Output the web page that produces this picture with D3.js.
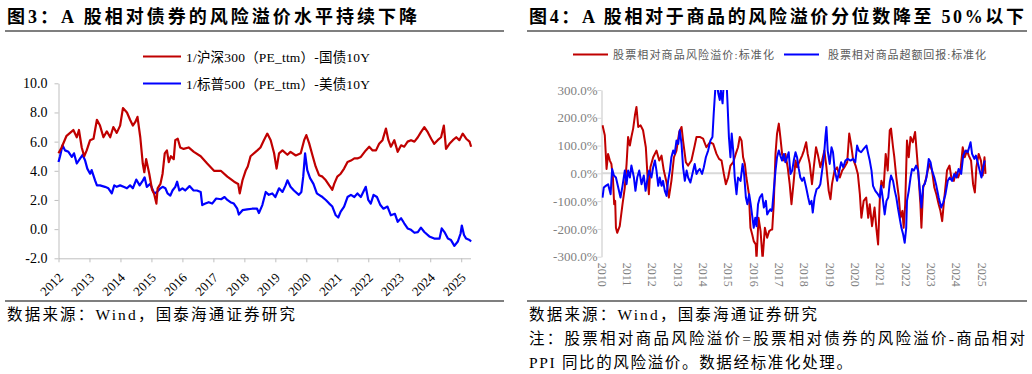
<!DOCTYPE html>
<html>
<head>
<meta charset="utf-8">
<script src="https://cdn.jsdelivr.net/npm/d3@7"></script>
<style>
  body { margin: 0; background: #fff; }
  svg { display: block; }
</style>
</head>
<body>
<svg id="chart" width="1032" height="374"></svg>
<script>
// ---- data: left chart (fig 3) ----
const leftYears = d3.range(2012, 2026);
const leftYTicks = [-2, 0, 2, 4, 6, 8, 10];
const leftNames = ["1/沪深300（PE_ttm）-国债10Y", "1/标普500（PE_ttm）-美债10Y"];

// [year, value]
const hs300Bond = [[2012.00,5.2],[2012.10,5.6],[2012.26,6.4],[2012.43,6.7],[2012.48,6.8],[2012.59,6.3],[2012.66,6.8],[2012.75,5.6],[2012.83,5.0],[2012.91,5.4],[2013.02,6.1],[2013.13,6.2],[2013.24,7.5],[2013.34,7.1],[2013.45,6.3],[2013.56,6.7],[2013.67,6.3],[2013.77,7.0],[2013.88,6.6],[2013.99,7.1],[2014.08,8.3],[2014.21,8.0],[2014.31,7.5],[2014.40,7.1],[2014.48,7.35],[2014.55,7.7],[2014.64,6.3],[2014.72,4.5],[2014.77,3.9],[2014.83,4.8],[2014.93,3.8],[2015.02,2.7],[2015.09,2.4],[2015.16,1.75],[2015.20,2.8],[2015.29,3.1],[2015.36,3.8],[2015.43,5.2],[2015.50,5.4],[2015.56,4.6],[2015.63,5.0],[2015.72,4.8],[2015.77,6.1],[2015.85,6.2],[2015.93,5.6],[2016.04,5.5],[2016.20,5.6],[2016.37,5.3],[2016.59,5.0],[2016.80,4.5],[2017.02,4.0],[2017.24,4.0],[2017.45,3.6],[2017.67,3.25],[2017.80,3.1],[2017.85,2.45],[2017.94,3.35],[2018.04,4.0],[2018.11,4.3],[2018.20,5.0],[2018.42,5.4],[2018.52,5.6],[2018.63,6.1],[2018.74,6.55],[2018.85,6.1],[2018.96,5.2],[2019.04,4.15],[2019.12,5.2],[2019.23,5.4],[2019.39,5.1],[2019.49,5.3],[2019.66,5.05],[2019.82,5.2],[2019.93,6.1],[2020.00,6.45],[2020.09,5.9],[2020.20,5.05],[2020.30,4.3],[2020.41,3.7],[2020.52,3.6],[2020.63,3.35],[2020.74,3.0],[2020.84,2.7],[2020.90,3.1],[2021.00,3.6],[2021.11,3.8],[2021.22,4.15],[2021.33,4.6],[2021.44,4.7],[2021.55,4.85],[2021.65,4.85],[2021.76,4.95],[2021.92,5.4],[2022.03,5.65],[2022.14,5.4],[2022.25,5.4],[2022.35,5.85],[2022.46,6.1],[2022.57,6.9],[2022.65,6.1],[2022.73,5.65],[2022.84,6.1],[2022.95,5.3],[2023.06,5.75],[2023.16,5.65],[2023.27,6.0],[2023.38,6.1],[2023.49,6.0],[2023.60,6.3],[2023.70,6.65],[2023.81,7.0],[2023.92,6.65],[2024.03,6.2],[2024.13,5.85],[2024.24,6.1],[2024.35,6.3],[2024.44,7.1],[2024.51,5.5],[2024.62,5.85],[2024.73,6.1],[2024.84,6.3],[2024.94,6.1],[2025.05,6.55],[2025.16,6.2],[2025.27,6.0],[2025.32,5.65]];

const spxBond = [[2012.00,4.6],[2012.05,5.0],[2012.13,5.75],[2012.21,5.4],[2012.32,5.3],[2012.43,4.95],[2012.50,5.2],[2012.59,4.5],[2012.70,4.85],[2012.78,5.1],[2012.86,4.7],[2012.93,4.15],[2013.02,3.8],[2013.07,4.05],[2013.18,3.35],[2013.24,3.0],[2013.34,3.0],[2013.50,2.9],[2013.61,2.8],[2013.72,2.45],[2013.80,3.0],[2013.88,2.9],[2013.99,3.0],[2014.10,2.9],[2014.21,2.8],[2014.31,3.0],[2014.40,2.8],[2014.51,3.4],[2014.62,3.0],[2014.70,3.25],[2014.78,3.55],[2014.85,2.9],[2014.96,3.1],[2015.02,2.8],[2015.09,2.45],[2015.18,2.55],[2015.29,2.8],[2015.36,2.9],[2015.45,2.8],[2015.52,2.45],[2015.61,2.3],[2015.68,2.65],[2015.77,2.9],[2015.83,3.25],[2015.90,2.65],[2016.00,2.8],[2016.09,2.65],[2016.23,2.95],[2016.36,2.65],[2016.47,2.65],[2016.59,2.55],[2016.64,1.65],[2016.74,1.75],[2016.85,1.85],[2016.96,1.75],[2017.09,2.1],[2017.25,2.05],[2017.36,2.2],[2017.45,2.0],[2017.55,1.85],[2017.66,1.75],[2017.77,1.4],[2017.82,1.0],[2017.94,1.3],[2018.09,1.35],[2018.25,1.4],[2018.41,1.4],[2018.47,1.1],[2018.58,1.65],[2018.69,2.55],[2018.79,2.35],[2018.90,2.45],[2019.00,2.2],[2019.12,2.8],[2019.23,2.55],[2019.33,3.0],[2019.39,3.35],[2019.49,2.9],[2019.60,2.65],[2019.76,2.35],[2019.84,2.55],[2019.90,3.6],[2019.96,5.2],[2020.03,4.05],[2020.12,3.5],[2020.23,3.1],[2020.34,2.45],[2020.41,2.35],[2020.52,2.2],[2020.63,2.0],[2020.74,1.75],[2020.84,1.55],[2020.95,0.95],[2021.03,0.8],[2021.11,1.2],[2021.22,1.55],[2021.33,2.2],[2021.44,2.35],[2021.55,2.2],[2021.65,2.45],[2021.76,2.2],[2021.92,2.9],[2022.00,2.0],[2022.08,1.75],[2022.17,2.35],[2022.28,2.2],[2022.39,1.65],[2022.49,1.4],[2022.62,1.55],[2022.73,0.95],[2022.86,1.05],[2022.95,0.5],[2023.06,0.75],[2023.16,0.4],[2023.27,0.05],[2023.38,-0.05],[2023.49,-0.25],[2023.60,-0.2],[2023.70,0.1],[2023.81,-0.2],[2023.97,-0.5],[2024.13,-0.65],[2024.30,-0.65],[2024.37,0.05],[2024.46,-0.2],[2024.57,-0.65],[2024.67,-0.75],[2024.78,-1.15],[2024.89,-0.85],[2024.98,-0.3],[2025.02,0.25],[2025.09,-0.4],[2025.16,-0.65],[2025.27,-0.75],[2025.32,-0.85]];

// ---- data: right chart (fig 4), percent ----
const rightYears = d3.range(2010, 2026);
const rightYTicks = [-300, -200, -100, 0, 100, 200, 300];
const rightNames = ["股票相对商品风险溢价:标准化", "股票相对商品超额回报:标准化"];

const premiumStd = [[2010.04,173],[2010.13,137],[2010.20,16],[2010.26,70],[2010.33,46],[2010.39,34],[2010.45,-15],[2010.50,-111],[2010.54,-99],[2010.57,-196],[2010.62,-214],[2010.72,-190],[2010.83,-111],[2010.92,-51],[2010.99,34],[2011.05,131],[2011.12,100],[2011.18,131],[2011.25,161],[2011.32,209],[2011.38,239],[2011.45,167],[2011.54,173],[2011.64,155],[2011.75,94],[2011.82,-15],[2011.87,-75],[2011.93,22],[2012.04,58],[2012.17,82],[2012.28,46],[2012.37,64],[2012.46,10],[2012.57,-33],[2012.66,-87],[2012.76,-27],[2012.86,58],[2012.96,82],[2013.07,149],[2013.16,167],[2013.22,118],[2013.33,40],[2013.42,28],[2013.55,46],[2013.68,100],[2013.75,131],[2013.88,131],[2014.01,125],[2014.14,94],[2014.28,112],[2014.41,106],[2014.54,70],[2014.64,52],[2014.74,46],[2014.83,-2],[2014.91,-39],[2015.00,-15],[2015.09,28],[2015.20,40],[2015.30,70],[2015.39,94],[2015.46,131],[2015.53,118],[2015.59,58],[2015.66,34],[2015.72,-15],[2015.82,-75],[2015.88,-196],[2015.95,-220],[2016.01,-244],[2016.09,-256],[2016.12,-310],[2016.20,-160],[2016.28,-208],[2016.36,-310],[2016.45,-196],[2016.54,-232],[2016.62,-208],[2016.71,-202],[2016.74,-202],[2016.80,-111],[2016.87,70],[2016.93,143],[2017.00,179],[2017.06,131],[2017.13,70],[2017.20,46],[2017.26,70],[2017.35,22],[2017.43,-39],[2017.50,-111],[2017.59,-27],[2017.66,46],[2017.72,22],[2017.83,46],[2017.92,64],[2017.99,82],[2018.08,112],[2018.14,70],[2018.22,34],[2018.31,-39],[2018.38,22],[2018.47,94],[2018.55,64],[2018.64,22],[2018.71,46],[2018.80,82],[2018.88,22],[2018.97,-63],[2019.04,-93],[2019.10,-39],[2019.20,10],[2019.30,22],[2019.41,-15],[2019.50,10],[2019.59,22],[2019.70,40],[2019.78,143],[2019.85,106],[2019.93,52],[2020.03,28],[2020.12,-2],[2020.20,-75],[2020.26,-160],[2020.35,-99],[2020.45,-87],[2020.53,-160],[2020.59,-111],[2020.68,-190],[2020.78,-123],[2020.85,-196],[2020.92,-256],[2020.99,-87],[2021.05,-27],[2021.14,-51],[2021.22,70],[2021.30,10],[2021.38,155],[2021.43,161],[2021.51,94],[2021.56,58],[2021.64,-15],[2021.74,-87],[2021.80,-160],[2021.88,-135],[2021.93,-196],[2021.99,-111],[2022.06,118],[2022.13,58],[2022.20,131],[2022.29,112],[2022.38,149],[2022.46,58],[2022.53,-27],[2022.59,-111],[2022.63,-196],[2022.70,-51],[2022.79,-27],[2022.88,10],[2022.96,34],[2023.05,10],[2023.14,-51],[2023.22,-75],[2023.31,-111],[2023.38,-135],[2023.45,-172],[2023.51,-111],[2023.59,-39],[2023.64,10],[2023.74,28],[2023.81,-15],[2023.91,-27],[2023.99,4],[2024.08,-15],[2024.17,10],[2024.26,94],[2024.34,58],[2024.43,82],[2024.50,64],[2024.59,46],[2024.67,-39],[2024.74,-69],[2024.80,22],[2024.89,70],[2024.98,46],[2025.05,-8],[2025.12,58],[2025.16,-2]];

const excessStd = [[2010.04,-87],[2010.09,-51],[2010.17,-45],[2010.26,-39],[2010.36,-75],[2010.42,16],[2010.49,-8],[2010.57,-15],[2010.66,-51],[2010.75,-87],[2010.83,-45],[2010.92,10],[2010.99,-39],[2011.05,10],[2011.12,-15],[2011.18,28],[2011.28,-15],[2011.34,-63],[2011.41,-15],[2011.49,10],[2011.58,-39],[2011.67,-8],[2011.74,-63],[2011.80,-27],[2011.88,10],[2011.97,-15],[2012.04,22],[2012.11,46],[2012.17,10],[2012.24,-45],[2012.30,-15],[2012.37,-45],[2012.43,-27],[2012.50,-63],[2012.57,-81],[2012.63,-27],[2012.70,10],[2012.76,58],[2012.83,82],[2012.89,70],[2012.96,118],[2013.03,106],[2013.09,155],[2013.16,106],[2013.22,22],[2013.29,-27],[2013.36,10],[2013.42,-15],[2013.51,-33],[2013.62,10],[2013.68,34],[2013.75,-2],[2013.82,10],[2013.88,16],[2013.97,-2],[2014.04,22],[2014.12,58],[2014.21,82],[2014.30,118],[2014.38,131],[2014.43,215],[2014.49,300],[2014.54,340],[2014.61,288],[2014.67,264],[2014.71,300],[2014.78,252],[2014.83,330],[2014.93,340],[2014.97,264],[2015.03,131],[2015.09,58],[2015.14,143],[2015.20,82],[2015.26,-15],[2015.33,-75],[2015.39,-15],[2015.49,-27],[2015.57,34],[2015.63,-2],[2015.70,-87],[2015.76,-111],[2015.83,-75],[2015.89,-111],[2015.96,-160],[2016.01,-196],[2016.07,-160],[2016.12,-190],[2016.18,-111],[2016.25,-87],[2016.34,-75],[2016.41,-123],[2016.49,-99],[2016.54,-148],[2016.62,-135],[2016.67,-129],[2016.71,-135],[2016.74,-129],[2016.80,-63],[2016.87,10],[2016.93,58],[2017.00,82],[2017.06,64],[2017.13,46],[2017.20,70],[2017.26,40],[2017.33,58],[2017.39,76],[2017.46,-2],[2017.53,10],[2017.59,46],[2017.66,76],[2017.72,58],[2017.79,16],[2017.85,-15],[2017.92,-27],[2017.99,-15],[2018.08,-51],[2018.16,-87],[2018.22,-111],[2018.29,-99],[2018.34,-141],[2018.41,-87],[2018.49,-57],[2018.58,-51],[2018.64,-39],[2018.71,10],[2018.78,58],[2018.84,131],[2018.88,167],[2018.93,82],[2019.01,34],[2019.08,94],[2019.14,76],[2019.21,10],[2019.30,-27],[2019.39,10],[2019.46,40],[2019.54,22],[2019.63,46],[2019.72,52],[2019.83,46],[2019.93,52],[2020.02,40],[2020.09,100],[2020.16,82],[2020.25,76],[2020.35,88],[2020.46,100],[2020.53,70],[2020.59,46],[2020.66,10],[2020.72,-45],[2020.81,-63],[2020.91,-75],[2020.99,-87],[2021.04,-45],[2021.10,-87],[2021.18,-148],[2021.25,-99],[2021.32,-87],[2021.38,-33],[2021.43,-8],[2021.51,-27],[2021.58,-63],[2021.64,-87],[2021.71,-129],[2021.77,-160],[2021.84,-196],[2021.91,-220],[2021.97,-250],[2022.03,-196],[2022.06,-99],[2022.13,-63],[2022.20,-15],[2022.26,16],[2022.33,10],[2022.42,28],[2022.50,10],[2022.56,-51],[2022.63,-123],[2022.70,-45],[2022.76,-39],[2022.83,-15],[2022.92,52],[2022.99,40],[2023.05,10],[2023.14,-15],[2023.22,-45],[2023.31,-87],[2023.41,-123],[2023.49,-105],[2023.58,-75],[2023.67,-27],[2023.75,-15],[2023.84,-27],[2023.93,-2],[2024.01,-15],[2024.10,16],[2024.20,-2],[2024.28,64],[2024.37,82],[2024.46,76],[2024.57,112],[2024.63,70],[2024.72,52],[2024.78,64],[2024.85,40],[2024.93,10],[2025.00,-15],[2025.07,22],[2025.13,46]];

const RED = "#c00000", BLUE = "#0000ff";
const FONT = "'Liberation Serif','Noto Sans CJK SC',serif";

const svg = d3.select("#chart");

// titles, rules, sources
function panelFrame(x0, x1, title, titleLen, notes){
    svg.append("text")
        .attr("x", x0 + 2).attr("y", 23)
        .attr("font-family", FONT).attr("font-size", 18).attr("font-weight", "bold")
        .attr("textLength", titleLen).attr("lengthAdjust", "spacing")
        .text(title);
    svg.append("line").attr("x1", x0).attr("x2", x1).attr("y1", 31).attr("y2", 31)
        .attr("stroke", "#555").attr("stroke-width", 1.5);
    svg.append("line").attr("x1", x0).attr("x2", x1).attr("y1", 301).attr("y2", 301)
        .attr("stroke", "#555").attr("stroke-width", 1.5);
    notes.forEach((n, i) => {
        svg.append("text")
            .attr("x", x0 + 2).attr("y", 320 + i * 24)
            .attr("font-family", FONT).attr("font-size", 15.5)
            .attr("textLength", n.len).attr("lengthAdjust", "spacing")
            .text(n.text);
    });
}

panelFrame(5, 504, "图3：A 股相对债券的风险溢价水平持续下降", 410,
    [{text: "数据来源：Wind，国泰海通证券研究", len: 288}]);
panelFrame(527, 1027, "图4：A 股相对于商品的风险溢价分位数降至 50%以下", 495,
    [{text: "数据来源：Wind，国泰海通证券研究", len: 288},
     {text: "注：股票相对商品风险溢价=股票相对债券的风险溢价-商品相对", len: 496},
     {text: "PPI 同比的风险溢价。数据经标准化处理。", len: 323}]);

// ---------- left chart ----------
const xL = d3.scaleLinear().domain([2012, 2025.3]).range([58.5, 470.5]);
const yL = d3.scaleLinear().domain([-2, 10]).range([258.3, 83.3]);

const gL = svg.append("g");

const yAxisL = gL.append("g")
    .attr("transform", `translate(${xL.range()[0]},0)`)
    .call(d3.axisLeft(yL).tickValues(leftYTicks).tickSize(4).tickSizeOuter(0)
        .tickFormat(d => d.toFixed(1)));
yAxisL.select(".domain").attr("stroke", "#bfbfbf");
yAxisL.selectAll(".tick line").attr("stroke", "#bfbfbf");
yAxisL.selectAll("text").attr("font-family", FONT).attr("font-size", 14)
    .attr("fill", "#000").attr("x", -11);

const xAxisL = gL.append("g")
    .attr("transform", `translate(0,${yL(-2)})`)
    .call(d3.axisBottom(xL).tickValues(leftYears).tickSize(4).tickSizeOuter(0)
        .tickFormat(d3.format("d")));
xAxisL.select(".domain").attr("stroke", "#bfbfbf");
xAxisL.selectAll(".tick line").attr("stroke", "#bfbfbf");
xAxisL.selectAll("text")
    .attr("font-family", FONT).attr("font-size", 13).attr("fill", "#000")
    .attr("text-anchor", "end")
    .attr("x", 0).attr("y", 0).attr("dy", 0)
    .attr("transform", "translate(5,20) rotate(-45)");

const lineL = d3.line().x(d => xL(d[0])).y(d => yL(d[1]));
gL.append("path").datum(spxBond).attr("d", lineL)
    .attr("fill", "none").attr("stroke", BLUE).attr("stroke-width", 2.2).attr("stroke-linejoin", "round");
gL.append("path").datum(hs300Bond).attr("d", lineL)
    .attr("fill", "none").attr("stroke", RED).attr("stroke-width", 2.2).attr("stroke-linejoin", "round");

// legend left
[RED, BLUE].forEach((c, i) => {
    const ly = 56.5 + i * 27;
    gL.append("line").attr("x1", 143).attr("x2", 181).attr("y1", ly).attr("y2", ly)
        .attr("stroke", c).attr("stroke-width", 2);
    gL.append("text").attr("x", 186).attr("y", ly + 5)
        .attr("font-family", FONT).attr("font-size", 13.5).attr("fill", "#000")
        .attr("textLength", 184).attr("lengthAdjust", "spacing")
        .text(leftNames[i]);
});

// ---------- right chart ----------
const xR = d3.scaleLinear().domain([2010, 2025.16]).range([601.5, 985.5]);
const yR = d3.scaleLinear().domain([-300, 300]).range([256.7, 90]);
const GREY_TXT = "#7f7f7f";

const gR = svg.append("g");

gR.append("clipPath").attr("id", "clipR")
  .append("rect").attr("x", xR.range()[0]).attr("y", yR(300))
    .attr("width", 400).attr("height", yR(-300) - yR(300));

const yAxisR = gR.append("g")
    .attr("transform", `translate(${xR.range()[0]},0)`)
    .call(d3.axisLeft(yR).tickValues(rightYTicks).tickSize(4).tickSizeOuter(0)
        .tickFormat(d => d.toFixed(1) + "%"));
yAxisR.select(".domain").attr("stroke", "#d9d9d9").attr("stroke-width", 1.5);
yAxisR.selectAll(".tick line").attr("stroke", "#d9d9d9");
yAxisR.selectAll("text").attr("font-family", FONT).attr("font-size", 13)
    .attr("fill", GREY_TXT).attr("x", -4);

// zero line
gR.append("line").attr("x1", xR.range()[0]).attr("x2", xR.range()[1])
    .attr("y1", yR(0)).attr("y2", yR(0))
    .attr("stroke", "#d9d9d9").attr("stroke-width", 2);

const xAxisR = gR.append("g")
    .attr("transform", `translate(0,${yR(-300)})`)
    .call(d3.axisBottom(xR).tickValues(rightYears).tickSize(0).tickFormat(d3.format("d")));
xAxisR.select(".domain").remove();
xAxisR.selectAll("text")
    .attr("font-family", FONT).attr("font-size", 12).attr("fill", GREY_TXT)
    .attr("text-anchor", "start")
    .attr("x", 0).attr("y", 0).attr("dy", "0.35em")
    .attr("transform", "translate(0,6) rotate(90)");

const lineR = d3.line().x(d => xR(d[0])).y(d => yR(d[1]));
const plotR = gR.append("g").attr("clip-path", "url(#clipR)");
plotR.append("path").datum(premiumStd).attr("d", lineR)
    .attr("fill", "none").attr("stroke", RED).attr("stroke-width", 2).attr("stroke-linejoin", "round");
plotR.append("path").datum(excessStd).attr("d", lineR)
    .attr("fill", "none").attr("stroke", BLUE).attr("stroke-width", 2).attr("stroke-linejoin", "round");

// legend right
const legR = [{x: 573, c: RED, tx: 613, len: 161}, {x: 784, c: BLUE, tx: 828, len: 158}];
legR.forEach((l, i) => {
    gR.append("line").attr("x1", l.x).attr("x2", l.x + 35).attr("y1", 54.5).attr("y2", 54.5)
        .attr("stroke", l.c).attr("stroke-width", 2);
    gR.append("text").attr("x", l.tx).attr("y", 58.5)
        .attr("font-family", FONT).attr("font-size", 11).attr("fill", "#595959")
        .attr("textLength", l.len).attr("lengthAdjust", "spacing")
        .text(rightNames[i]);
});
</script>
</body>
</html>
